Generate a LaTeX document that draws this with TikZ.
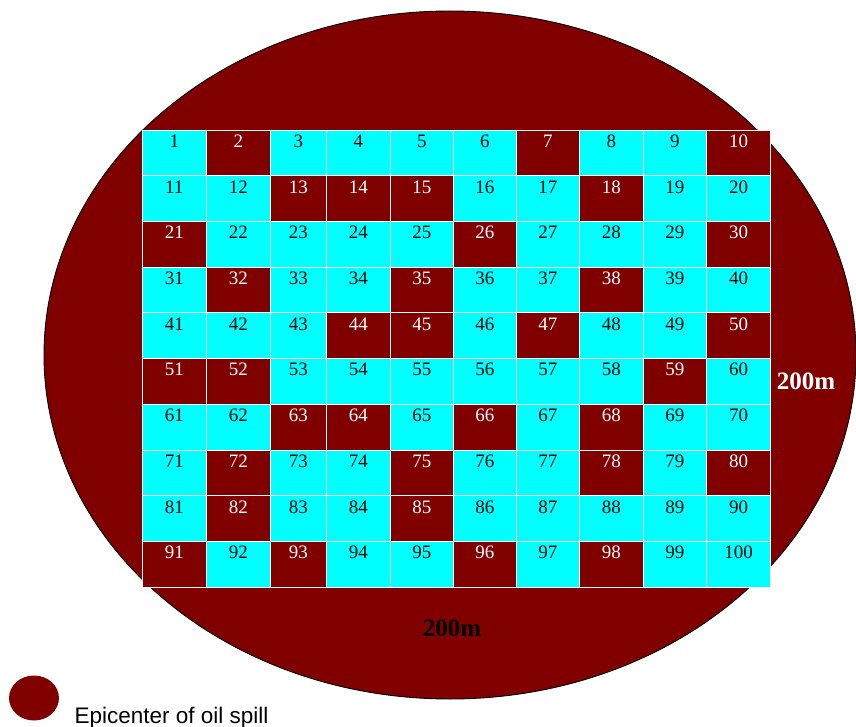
\documentclass[tikz,border=0pt]{standalone}
\usepackage{fontspec}
\setmainfont{Liberation Serif}
\setsansfont{Liberation Sans}
\usetikzlibrary{positioning,shapes.geometric}
\definecolor{oilred}{RGB}{128,0,0}
\definecolor{seacyan}{RGB}{0,255,255}
\tikzset{
  cell/.style ={rectangle, draw=white, line width=0.8pt, anchor=north west,
                inner sep=0pt, outer sep=0pt, minimum height=45.7pt,
                text height=17.4pt, text depth=28.3pt, font=\fontsize{19}{19}\selectfont},
  cellM/.style={cell, fill=oilred, text=white},
  cellC/.style={cell, fill=seacyan, text=black},
  side/.style ={font=\bfseries\fontsize{25}{25}\selectfont},
}

\begin{document}
\begin{tikzpicture}[x=1pt, y=-1pt]
\useasboundingbox (0,0) rectangle (856,727);
\node[ellipse, draw=black, line width=0.9pt, fill=oilred, inner sep=0pt,
      minimum width=812pt, minimum height=688pt] (spill) at (450,355) {};
% grid of sample squares, C = clean, M = oiled
\foreach \n/\k in {1/C,2/M,3/C,4/C,5/C,6/C,7/M,8/C,9/C,10/M,
                   11/C,12/C,13/M,14/M,15/M,16/C,17/C,18/M,19/C,20/C,
                   21/M,22/C,23/C,24/C,25/C,26/M,27/C,28/C,29/C,30/M,
                   31/C,32/M,33/C,34/C,35/M,36/C,37/C,38/M,39/C,40/C,
                   41/C,42/C,43/C,44/M,45/M,46/C,47/M,48/C,49/C,50/M,
                   51/M,52/M,53/C,54/C,55/C,56/C,57/C,58/C,59/M,60/C,
                   61/C,62/C,63/M,64/M,65/C,66/M,67/C,68/M,69/C,70/C,
                   71/C,72/M,73/C,74/C,75/M,76/C,77/C,78/M,79/C,80/M,
                   81/C,82/M,83/C,84/C,85/M,86/C,87/C,88/C,89/C,90/C,
                   91/M,92/C,93/M,94/C,95/C,96/M,97/C,98/M,99/C,100/C} {
  \pgfmathtruncatemacro\col{mod(\n-1,10)}
  \pgfmathtruncatemacro\row{div(\n-1,10)}
  \pgfmathsetmacro\xl{{142,206.5,270,326.5,390,453.5,516,579.5,643,706.5,770.5}[\col]}
  \pgfmathsetmacro\xr{{142,206.5,270,326.5,390,453.5,516,579.5,643,706.5,770.5}[\col+1]}
  \pgfmathsetmacro\w{\xr-\xl}
  \pgfmathsetmacro\yt{130+45.7*\row}
  \node[cell\k, minimum width=\w pt] (c\n) at (\xl,\yt) {\n};
}
\node[side, text=white] (east) at (806,381) {200m};
\node[side] (south) at (452,628) {200m};
% legend
\node[ellipse, fill=oilred, inner sep=0pt, minimum width=50pt, minimum height=45pt] (dot) at (34,698) {};
\node[anchor=base west, font=\sffamily\fontsize{22.5}{22.5}\selectfont] (key) at (71,723) {Epicenter of oil spill};
\end{tikzpicture}
\end{document}
